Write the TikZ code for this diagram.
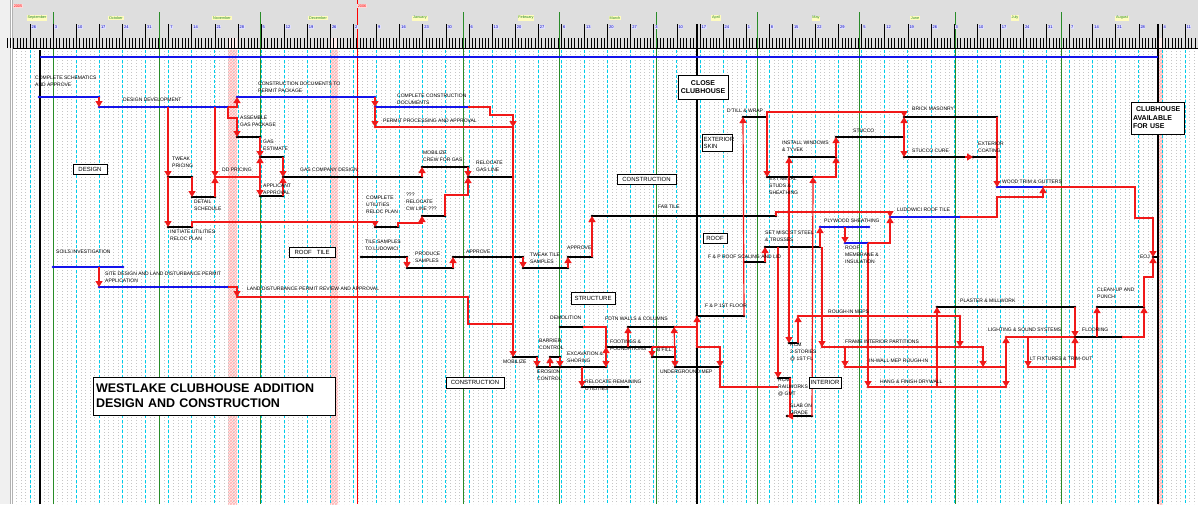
\documentclass[tikz,border=0pt]{standalone}
\usepackage{fontspec}
\setmainfont{Liberation Sans}
\usetikzlibrary{arrows.meta,patterns}

\definecolor{barblue}{RGB}{20,20,235}
\definecolor{barred}{RGB}{240,25,25}
\definecolor{hdrgray}{RGB}{222,222,222}
\definecolor{weekcyan}{RGB}{0,205,235}
\definecolor{monthgreen}{RGB}{40,140,40}

\begin{document}
\begin{tikzpicture}[x=1pt, y=-1pt,
  link/.style={draw=barred, line width=1.2pt, -{Triangle[length=6pt,width=7pt]}},
  linkn/.style={draw=barred, line width=1.2pt},
  actlbl/.style={anchor=west, inner sep=0pt, align=left, font=\fontsize{5}{7}\selectfont},
  grpbox/.style={draw, line width=0.8pt, fill=white, inner sep=1pt, font=\fontsize{6}{7}\selectfont},
  milebox/.style={draw, line width=1pt, fill=white, inner sep=2pt, font=\bfseries\fontsize{7}{8.5}\selectfont},
  weekline/.style={weekcyan, line width=0.7pt, dash pattern=on 3pt off 2pt},
  monthline/.style={monthgreen, line width=0.8pt},
  dayline/.style={gray!45, line width=0.5pt, dash pattern=on 0.5pt off 2.5pt},
  weeklbl/.style={anchor=north west, inner sep=0.5pt, fill=blue!12, text=blue!70!black, font=\fontsize{4}{4.5}\selectfont},
  monthlbl/.style={inner sep=0.8pt, fill=yellow!25, text=monthgreen, font=\fontsize{3.8}{4}\selectfont},
  yearlbl/.style={inner sep=0.6pt, fill=red!15, text=red, font=\fontsize{3.8}{4}\selectfont}
]
\useasboundingbox (0,0) rectangle (1198,504);
\fill[white] (0,0) rectangle (1198,504);
% window frame and header
\fill[gray!12] (0,0) rectangle (10,504);
\draw[gray!60, line width=0.8pt] (10,0) -- (10,504) (12.5,0) -- (12.5,504);
\fill[hdrgray] (13,0) rectangle (1198,48);

% holidays
\foreach \xa/\xb in {228/237, 330/338, 1158/1163} {
  \fill[red!8] (\xa,38) rectangle (\xb,504);
  \fill[pattern=crosshatch, pattern color=red!30] (\xa,50) rectangle (\xb,504);
}

% daily grid
\foreach \j in {-3,...,252}
  \draw[dayline] ({30+4.62*\j},51) -- ({30+4.62*\j},504);
% weeks
\foreach \k in {0,...,50}
  \draw[weekline] ({30+23.1*\k},50) -- ({30+23.1*\k},504);
% months
\foreach \x in {53,159,260,463,559,656,757,859,955,1061}
  \draw[monthline] (\x,12) -- (\x,504);
\draw[red, line width=1pt] (357,0) -- (357,504);

% timescale
\foreach \d in {-7,...,355}
  \draw[line width=0.5pt] ({30+3.3*\d},38) -- ({30+3.3*\d},48);
\foreach \lab [count=\k from 0] in {26,3,10,17,24,31,7,14,21,28,5,12,19,26,2,9,16,23,30,6,13,20,27,6,13,20,27,3,10,17,24,1,8,15,22,29,5,12,19,26,3,10,17,24,31,7,14,21,28,4,11} {
  \draw[line width=0.6pt] ({30+23.1*\k},24) -- ({30+23.1*\k},48);
  \node[weeklbl] (wk\k) at ({31+23.1*\k},25) {\lab};
}
\foreach \m/\x in {September/37, October/116, November/222, December/318, January/420, February/526, March/615, April/716, May/816, June/915, July/1015, August/1122}
  \node[monthlbl] (mo\m) at (\x,18) {\m};
\node[yearlbl] (yr5) at (18,6) {2005};
\node[yearlbl] (yr6) at (362,6) {2006};
\draw[line width=1.6pt] (13,48.5) -- (1198,48.5);

% milestone lines and project bar
\draw[line width=1.5pt] (40,50) -- (40,504);
\draw[line width=1.5pt] (697,24) -- (697,504);
\draw[line width=1.5pt] (1158,24) -- (1158,504);
\draw[barblue, line width=1.3pt] (40,57) -- (1158,57);

% activities
\foreach \n/\xa/\xb/\y/\c in {
  csa/39/99/97/barblue, dd/99/228/107/barblue, cdp/237/375/97/barblue,
  ccd/375/468/107/barblue, ppa/375/513/127/barred,
  tp/168/192/177/black, ds/192/215/197/black, ddp/215/260/177/barred,
  agp/237/260/137/black, ge/260/283/157/black, gca/260/283/196/black,
  gcd/283/422/177/black, mcg/422/468/167/black, rgl/468/513/177/black,
  iur/168/192/227/black, cur/375/398/227/black, rcw/422/445/216/black,
  si/53/123/267/barblue, sdl/99/228/287/barblue, ldp/237/468/297/barred,
  tsl/361/407/257/black, ps/407/453/268/black, ap1/453/523/257/black,
  tts/523/568/268/black, ap2/568/592/257/black, ft/592/776/216/black,
  mob/513/537/357/black, ec/537/560/367/black, bc/550/560/357/black,
  ex/560/606/367/black, dem/560/583/327/black, rru/582/628/387/black,
  ff/606/652/347/black, fwc/628/674/327/black, bf/652/675/357/black,
  ug/675/720/367/black, fp1/697/744/316/black,
  dtw/743/767/117/black, ems/767/813/177/black, iwt/789/836/157/black,
  stc/836/904/137/black, bm/904/997/117/black, sc/904/973/157/black,
  exc/973/997/157/black, wtg/997/1043/187/barblue,
  lrt/890/960/217/barblue, pws/820/869/227/barblue, rmi/845/868/243/barblue,
  smt/765/820/247/black, fpr/744/765/262/black,
  rcm2/789/798/343/black, rcm1/778/790/378/black, sog/787/812/416/black,
  rim/798/960/316/barred, fip/822/960/347/barred, iwm/845/983/367/barred,
  hfd/868/1006/387/barred, pm/937/1075/307/black, lss/1006/1075/337/barred,
  fto/1028/1075/367/barred, fl/1075/1122/337/black, cup/1097/1144/307/black,
  eoj/1153/1158/257/black}
{
  \draw[draw=\c, line width=1.4pt] (\xa,\y) coordinate (\n-s) -- (\xb,\y) coordinate (\n-e);
  \fill[fill=\c] (\n-s) circle (1.3) (\n-e) circle (1.3);
}

% logic
\draw[link] (csa-e) -- (dd-s);
\draw[link] (dd-e) -| (cdp-s);
\draw[link] (dd-e) -- ++(0,11) -| (agp-s);
\draw[link] (cdp-e) -- (ccd-s);
\draw[link] (ccd-s) -- (ppa-s);
\draw[link] (ccd-e) -| ++(22,8) -| (ppa-e);
\draw[link] (ppa-e) -- (mob-s);
\draw[linkn] (ldp-e) |- ++(45,27);
\draw[link] (tp-s |- dd-s) -- (tp-s);
\draw[link] (tp-s) -- (iur-s);
\draw[link] (tp-e) -- (ds-s);
\draw[link] (ddp-s |- dd-s) -- (ddp-s);
\draw[link] (ds-e) -- (ddp-s);
\draw[link] (agp-e) -- (ge-s);
\draw[link] (ddp-e) -- (ge-s);
\draw[link] (ddp-e) -- (gca-s);
\draw[link] (ge-e) -- (gcd-s);
\draw[link] (gca-e) -- (gcd-s);
\draw[link] (gcd-e) -- (mcg-s);
\draw[link] (mcg-e) -- (rgl-s);
\draw[link] (rcw-e) -- ++(0,-21) -| (rgl-s);
\draw[link] (iur-e) -- ++(0,-5) -| (cur-s);
\draw[link] (cur-e) -- ++(0,-4) -| (rcw-s);
\draw[link] (si-s -| sdl-s) -- (sdl-s);
\draw[link] (sdl-e) -| (ldp-s);
\draw[link] (tsl-e) -- (ps-s);
\draw[link] (ps-e) -- (ap1-s);
\draw[link] (ap1-e) -- (tts-s);
\draw[link] (tts-e) -- (ap2-s);
\draw[link] (ap2-e) -- (ft-s);
\draw[link] (ft-e) -- ++(0,-4) -| (lrt-s);
\draw[link] (mob-e) -- (ec-s);
\draw[link] (bc-s |- ec-s) -- (bc-s);
\draw[link] (bc-e) -- (ex-s);
\draw[link] (dem-e) -| (ex-e);
\draw[link] (ex-e) -- (ff-s);
\draw[link] (rru-s |- ex-s) -- (rru-s);
\draw[link] (fwc-s |- ff-s) -- (fwc-s);
\draw[link] (ff-e) -- (bf-s);
\draw[link] (ff-e) -| (ug-s);
\draw[link] (bf-e) -- (fwc-e);
\draw[link] (fwc-e) -| (fp1-s);
\draw[link] (fp1-s) -- (fp1-s |- ff-s) -| (ug-e);
\draw[linkn] (ug-e) |- (rcm1-s |- rru-s);
\draw[link] (fp1-e) -- (dtw-s);
\draw[link] (dtw-e) -- ++(0,-5) -| (bm-s);
\draw[link] (dtw-e) -- (ems-s);
\draw[link] (iwt-s |- ems-s) -- (iwt-s);
\draw[link] (iwt-s |- ems-s) -- (rcm2-s);
\draw[link] (ems-e) -| (iwt-e);
\draw[link] (sog-e) -- (ems-e);
\draw[link] (iwt-e) -- (stc-s);
\draw[link] (stc-e) -- (bm-s);
\draw[link] (stc-e) -- (sc-s);
\draw[link] ([xshift=-8pt]sc-e) -- (sc-e);
\draw[link] (bm-e) -- (wtg-s);
\draw[link] (lrt-e) -- ++(37,0) -- ++(0,-20) -| (wtg-e);
\draw[link] (wtg-e) -| ++(92,31) -| (eoj-s);
\draw[link] (fl-e) -| (cup-e);
\draw[link] (cup-e) -- ++(0,-30) -| (eoj-s);
\draw[link] (cup-s |- fl-s) -- (cup-s);
\draw[link] (pm-e) -- (fl-s);
\draw[link] (fto-e) -- (fl-s);
\draw[link] (fto-s |- lss-s) -- (fto-s);
\draw[link] (iwm-e) -| (lss-s);
\draw[link] (iwm-e) -| (hfd-e);
\draw[link] (rim-e) -- (fip-e);
\draw[link] (fip-e) -| (iwm-e);
\draw[link] (fip-s |- smt-s) -- (fip-s);
\draw[link] (iwm-s |- fip-s) -- (iwm-s);
\draw[link] (rmi-e) -- (hfd-s);
\draw[link] (pm-s |- hfd-s) -- (pm-s);
\draw[link] (rmi-s |- pws-s) -- (rmi-s);
\draw[link] (rmi-e) -| (lrt-s);
\draw[link] (smt-e) -- (pws-s);
\draw[link] (fpr-e) -- (smt-s);
\draw[link] (rcm2-e) -- (rim-s);
\draw[link] (rcm1-s |- smt-s) -- (rcm1-s);
\draw[link] (rcm1-e) -- (sog-s -| rcm1-e) -- (sog-s);

% activity names
\foreach \n/\x/\y/\t in {
  csa/35/81.5/COMPLETE SCHEMATICS\\AND APPROVE, dd/123/100/DESIGN DEVELOPMENT,
  cdp/258/87.5/CONSTRUCTION DOCUMENTS TO\\PERMIT PACKAGE,
  ccd/397/99/COMPLETE CONSTRUCTION\\DOCUMENTS, ppa/383/121/PERMIT PROCESSING AND APPROVAL,
  tp/172/162/TWEAK\\PRICING, ds/194/205/DETAIL\\SCHEDULE, ddp/222/170/DD PRICING,
  agp/240/121/ASSEMBLE\\GAS PACKAGE, ge/263/145.5/GAS\\ESTIMATE, gca/263/189/APPLICANT\\APPROVAL,
  gcd/300/170/GAS COMPANY DESIGN, mcg/423/156/MOBILIZE\\CREW FOR GAS, rgl/476/166.5/RELOCATE\\GAS LINE,
  iur/170/235/INITIATE UTILITIES\\RELOC PLAN, cur/366/205/COMPLETE\\UTILITIES\\RELOC PLAN,
  rcw/406/202/???\\RELOCATE\\CW LINE ???, si/56/252/SOILS INVESTIGATION,
  sdl/105/277.5/SITE DESIGN AND LAND DISTURBANCE PERMIT\\APPLICATION,
  ldp/247/289/LAND DISTURBANCE PERMIT REVIEW AND APPROVAL,
  tsl/365/245.5/TILE SAMPLES\\TO LUDOWICI, ps/415/257/PRODUCE\\SAMPLES, ap1/466/252/APPROVE,
  tts/530/258.5/TWEAK TILE\\SAMPLES, ap2/567/248/APPROVE, ft/658/207/FAB TILE,
  mob/503/362/MOBILIZE, ec/537/375.5/EROSION\\CONTROL, bc/539/344.5/BARRIER\\CONTROL,
  ex/567/357.5/EXCAVATION \&\\SHORING, dem/550/318/DEMOLITION,
  rru/585/385/RELOCATE REMAINING\\UTILITIES, ff/610/345.5/FOOTINGS \&\\FOUNDATIONS,
  fwc/605/319/FDTN WALLS \& COLUMNS, bf/657/350/B'FILL, ug/660/372/UNDERGROUND MEP,
  fp1/705/306/F \& P 1ST FLOOR, dtw/727/111/D'TILL \& WRAP,
  ems/769/186/EXT METAL\\STUDS \&\\SHEATHING, iwt/782/146.5/INSTALL WINDOWS\\\& TYVEK,
  stc/853/131/STUCCO, bm/912/109/BRICK MASONRY, sc/912/151/STUCCO CURE,
  exc/978/147/EXTERIOR\\COATING, wtg/1002/182/WOOD TRIM \& GUTTERS,
  lrt/897/210/LUDOWICI ROOF TILE, pws/824/221/PLYWOOD SHEATHING,
  smt/765/236/SET MISC ST STEEL\\\& TRUSSES, fpr/708/257/F \& P ROOF SCALING AND LID,
  rmi/845/255/ROOF\\MEMBRANE \&\\INSULATION, rim/828/312/ROUGH-IN MEPS,
  fip/845/342/FRAME INTERIOR PARTITIONS, iwm/869/361/IN-WALL MEP ROUGH-IN,
  hfd/880/382/HANG \& FINISH DRYWALL, pm/960/301/PLASTER \& MILLWORK,
  lss/988/330/LIGHTING \& SOUND SYSTEMS, fto/1030/359/LT FIXTURES \& TRIM-OUT,
  fl/1082/330/FLOORING, cup/1097/293/CLEAN-UP AND\\PUNCH,
  rcm2/790/352/RCM\\2-STORIES\\@ 1ST FL, rcm1/778/387/RCM\\RAILWORKS\\@ GMT, sog/790/409/SLAB ON\\GRADE}
  \node[actlbl] (\n-l) at (\x,\y) {\t};
\node[actlbl, anchor=east] (eoj-l) at (1150,257) {EOJ};

% group boxes
\node[grpbox, minimum width=34pt, minimum height=10pt] (gdesign) at (90,169) {DESIGN};
\node[grpbox, minimum width=46pt, minimum height=10pt] (groof1) at (312,252) {ROOF\ \ \ TILE};
\node[grpbox, minimum width=59pt, minimum height=10pt] (gcons1) at (646.5,179) {CONSTRUCTION};
\node[grpbox, minimum width=58pt, minimum height=11pt] (gcons2) at (475,382.5) {CONSTRUCTION};
\node[grpbox, minimum width=44pt, minimum height=12pt] (gstruct) at (593,298) {STRUCTURE};
\node[grpbox, minimum width=24pt, minimum height=10pt] (groof2) at (715,238) {ROOF};
\node[grpbox, minimum width=32pt, minimum height=11pt] (ginter) at (825,382.5) {INTERIOR};
\node[grpbox, text width=28pt, minimum height=17pt, align=left] (gskin) at (717.5,142.5) {EXTERIOR\\SKIN};
\node[milebox, minimum width=50pt, minimum height=24pt, align=center] (mclose) at (703,87) {CLOSE\\CLUBHOUSE};
\node[milebox, text width=49pt, minimum height=32pt, align=left] (mavail) at (1157.5,118)
  {\mbox{\hspace*{3pt}CLUBHOUSE}\\AVAILABLE\\FOR USE};
\node[draw, line width=1pt, fill=white, text width=236pt, minimum height=38pt, align=left, inner sep=3pt,
  font=\bfseries\fontsize{12.5}{15}\selectfont] (title) at (214,396)
  {WESTLAKE CLUBHOUSE ADDITION\\DESIGN AND CONSTRUCTION};
\end{tikzpicture}
\end{document}
